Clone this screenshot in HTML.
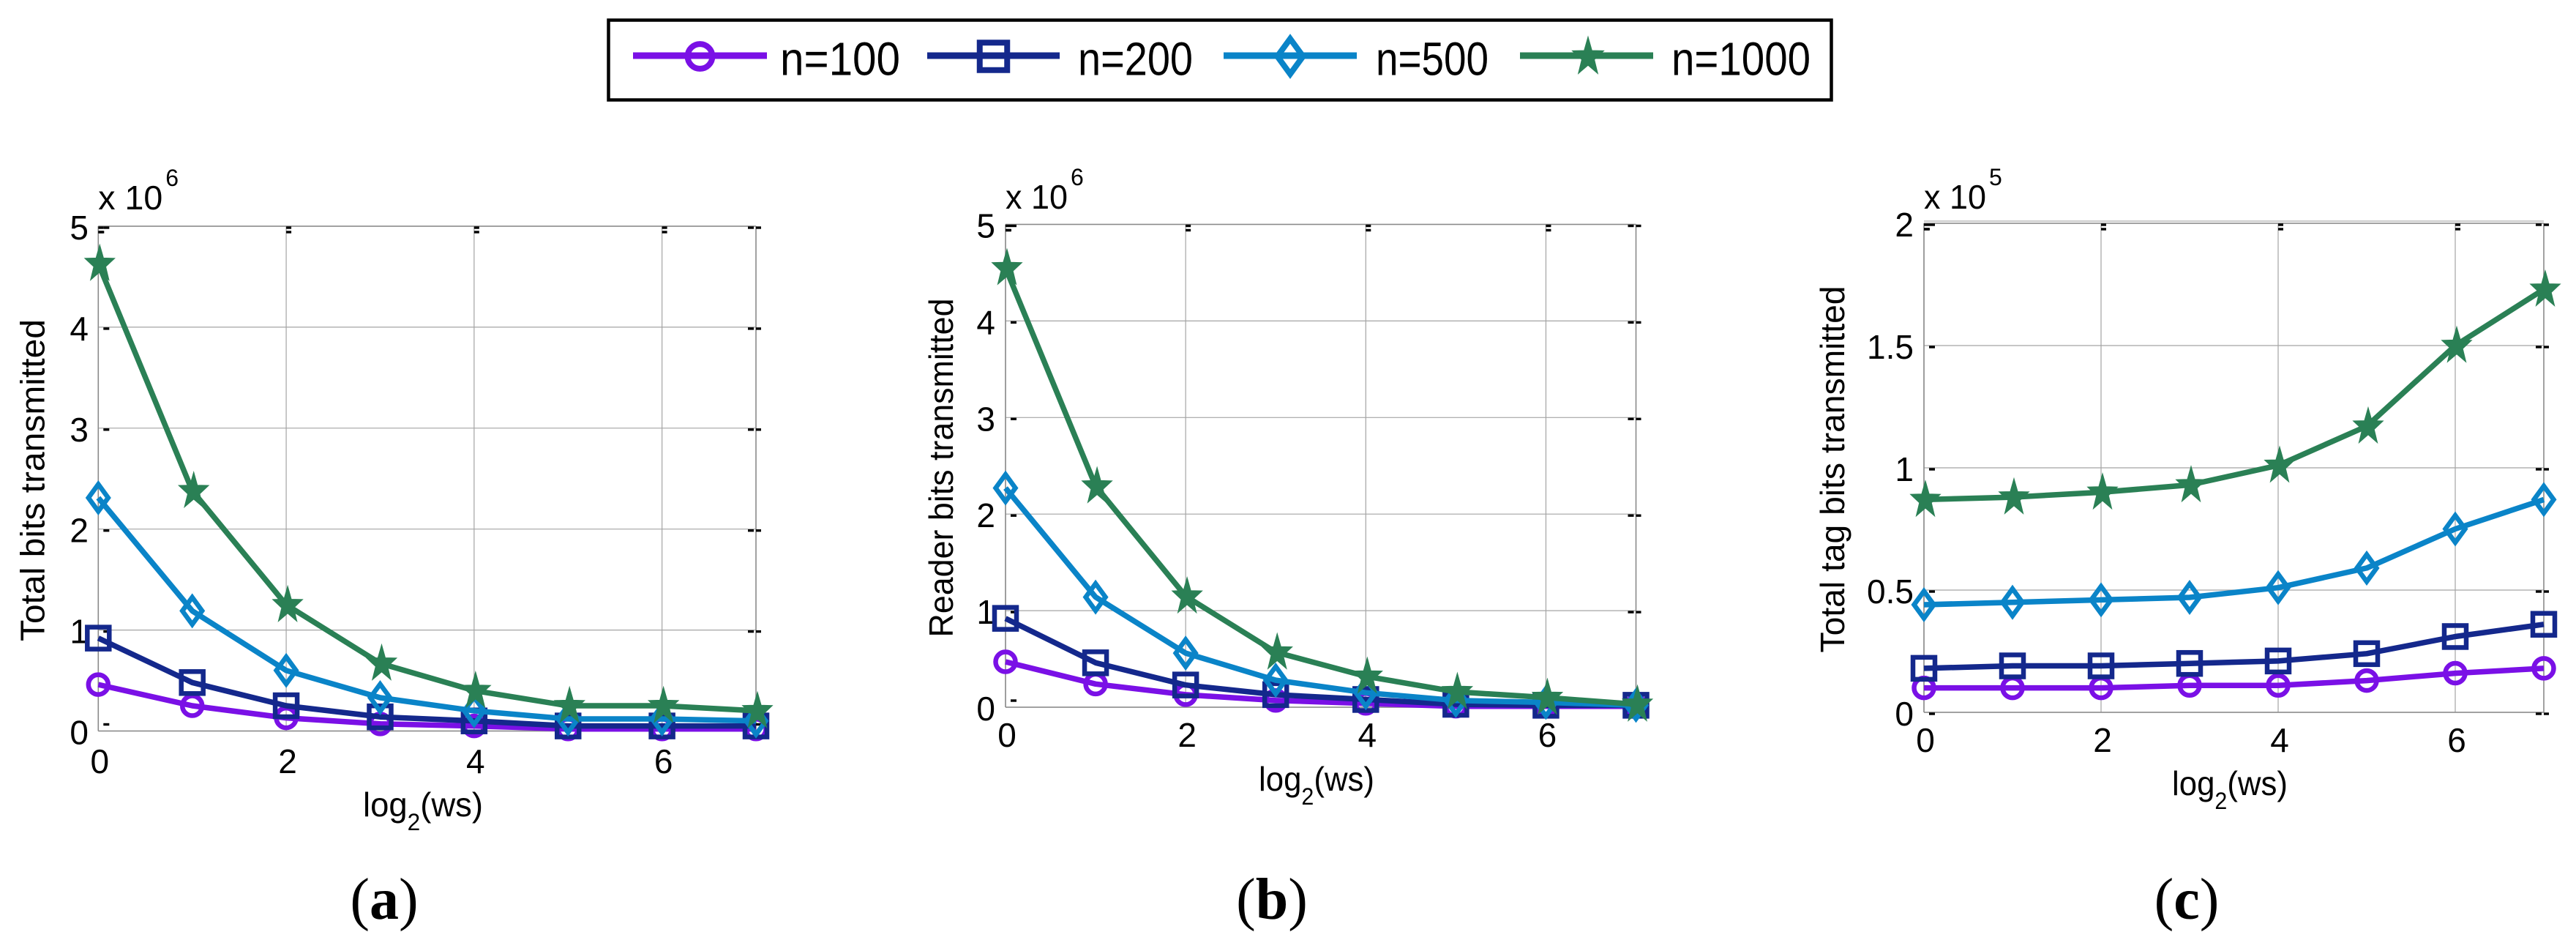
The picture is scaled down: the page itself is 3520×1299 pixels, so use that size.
<!DOCTYPE html>
<html lang="en">
<head>
<meta charset="utf-8">
<title>Bits transmitted versus window size</title>
<style>
html,body{margin:0;padding:0;background:#fff;}
#figure{display:block;width:3520px;height:1299px;background:#fff;}
text{font-family:"Liberation Sans",sans-serif;fill:#000;}
</style>
</head>
<body>
<svg id="figure" xmlns="http://www.w3.org/2000/svg" width="3520" height="1299" viewBox="0 0 3520 1299"></svg>
<script>
// ---- chart data ----
const seriesNames = ["n=100", "n=200", "n=500", "n=1000"];
const xCategories = [0, 1, 2, 3, 4, 5, 6, 7];
const xTickValues = [0, 2, 4, 6];
const xTickLabels = ["0", "2", "4", "6"];

const totalBitsN100 = [0.46, 0.25, 0.13, 0.07, 0.05, 0.02, 0.02, 0.02];
const totalBitsN200 = [0.92, 0.48, 0.25, 0.14, 0.10, 0.05, 0.05, 0.05];
const totalBitsN500 = [2.31, 1.19, 0.60, 0.33, 0.20, 0.12, 0.12, 0.10];
const totalBitsN1000 = [4.63, 2.38, 1.25, 0.67, 0.40, 0.25, 0.25, 0.20];

const readerBitsN100 = [0.47, 0.24, 0.13, 0.07, 0.04, 0.01, 0.01, 0.01];
const readerBitsN200 = [0.92, 0.46, 0.23, 0.13, 0.08, 0.03, 0.02, 0.02];
const readerBitsN500 = [2.27, 1.14, 0.56, 0.28, 0.15, 0.07, 0.05, 0.02];
const readerBitsN1000 = [4.55, 2.29, 1.15, 0.57, 0.32, 0.16, 0.10, 0.03];

const tagBitsN100 = [0.10, 0.10, 0.10, 0.11, 0.11, 0.13, 0.16, 0.18];
const tagBitsN200 = [0.18, 0.19, 0.19, 0.20, 0.21, 0.24, 0.31, 0.36];
const tagBitsN500 = [0.44, 0.45, 0.46, 0.47, 0.51, 0.59, 0.75, 0.87];
const tagBitsN1000 = [0.87, 0.88, 0.90, 0.93, 1.01, 1.17, 1.50, 1.73];

const millionTickValues = [0, 1, 2, 3, 4, 5];
const millionTickLabels = ["0", "1", "2", "3", "4", "5"];
const tagTickValues = [0, 0.5, 1, 1.5, 2];
const tagTickLabels = ["0", "0.5", "1", "1.5", "2"];

// ---- styling ----
const COLORS = {"n=100": "#7a10e6", "n=200": "#14288c", "n=500": "#0a84c8", "n=1000": "#2a8055"};
const SVG_NS = "http://www.w3.org/2000/svg";
const root = document.getElementById("figure");

function el(tag, attrs, parent) {
  const node = document.createElementNS(SVG_NS, tag);
  for (const k in attrs) node.setAttribute(k, attrs[k]);
  (parent || root).appendChild(node);
  return node;
}

function slug(s) {
  return s.replace("=", "-");
}

function starPoints(cx, cy, rx, ry) {
  const pts = [];
  for (let i = 0; i < 10; i++) {
    const f = i % 2 === 0 ? 1 : 0.4;
    const a = -Math.PI / 2 + i * Math.PI / 5;
    pts.push((cx + f * rx * Math.cos(a)).toFixed(1) + "," + (cy + f * ry * Math.sin(a)).toFixed(1));
  }
  return pts.join(" ");
}

function drawMarker(parent, name, cx, cy, scale, strokeW) {
  const color = COLORS[name];
  const k = scale || 1;
  const sw = strokeW || 6.5;
  let m;
  if (name === "n=100") {
    m = el("circle", {cx: cx, cy: cy, r: 13.5 * k, fill: "none", stroke: color, "stroke-width": sw}, parent);
  } else if (name === "n=200") {
    m = el("rect", {x: cx - 15 * k, y: cy - 15 * k, width: 30 * k, height: 30 * k, fill: "none", stroke: color, "stroke-width": sw}, parent);
  } else if (name === "n=500") {
    const w = 13.5 * k, h = 18.5 * k;
    m = el("polygon", {points: cx + "," + (cy - h) + " " + (cx + w) + "," + cy + " " + cx + "," + (cy + h) + " " + (cx - w) + "," + cy, fill: "none", stroke: color, "stroke-width": sw}, parent);
  } else {
    m = el("polygon", {points: starPoints(cx + 2, cy + 1, 21.5 * k, 26.5 * k), fill: color, stroke: color, "stroke-width": 1}, parent);
  }
  
  
}

function addText(parent, str, x, y, size, anchor, name) {
  const t = el("text", {x: x, y: y, "font-size": size, "text-anchor": anchor}, parent);
  t.textContent = str;
  
  
  return t;
}

function drawPanel(p) {
  const g = el("g", {}, root);
  
  

  const xScale = v => p.x0 + (v - p.xMin) / (p.xMax - p.xMin) * (p.x1 - p.x0);
  const yScale = v => p.y0 + (v - p.yMin) / (p.yMax - p.yMin) * (p.y1 - p.y0);

  // grid
  const grid = el("g", {stroke: "#a4a4a4", "stroke-width": 1.2, fill: "none"}, g);
  
  
  p.yTicks.forEach(v => el("line", {x1: p.x0, x2: p.x1, y1: yScale(v), y2: yScale(v)}, grid));
  xTickValues.forEach(v => el("line", {x1: xScale(v), x2: xScale(v), y1: p.y1, y2: p.y0}, grid));

  // axes frame
  const frame = el("g", {stroke: "#8a8a8a", "stroke-width": 1.6, fill: "none"}, g);
  
  
  el("line", {x1: p.x0, x2: p.x0, y1: p.y1, y2: p.y0}, frame);
  el("line", {x1: p.x0, x2: p.x1, y1: p.y0, y2: p.y0}, frame);
  el("line", {x1: p.x0, x2: p.x1, y1: p.y1, y2: p.y1}, frame);
  el("line", {x1: p.x1, x2: p.x1, y1: p.y1, y2: p.y0}, frame);
  if (p.doubleTop) el("line", {x1: p.x0, x2: p.x1, y1: p.y1 - 3, y2: p.y1 - 3, stroke: "#bbbbbb"}, frame);

  // tick dashes
  const dashes = el("g", {stroke: "#000", "stroke-width": 3.4, fill: "none"}, g);
  
  
  p.yTicks.forEach(v => {
    const y = yScale(v) + (v === p.yMin ? p.zeroDash : 2);
    el("line", {x1: p.x0 + 7, x2: p.x0 + 15, y1: y, y2: y}, dashes);
    el("line", {x1: p.x1 - 11, x2: p.x1 - 3, y1: y, y2: y}, dashes);
    el("line", {x1: p.x1, x2: p.x1 + 7, y1: y, y2: y}, dashes);
  });
  xTickValues.forEach(v => {
    const x = xScale(v);
    el("line", {x1: x, x2: x + 7, y1: p.y1 + 2, y2: p.y1 + 2}, dashes);
    el("line", {x1: x, x2: x + 7, y1: p.y1 + 8, y2: p.y1 + 8}, dashes);
  });
  el("line", {x1: p.x0, x2: p.x0 + 8, y1: p.y1 + 8, y2: p.y1 + 8}, dashes);

  // tick labels
  xTickValues.forEach((v, i) => {
    addText(g, xTickLabels[i], xScale(v) + 2, p.xLabelBase, 46, "middle", "x-tick-label-" + xTickLabels[i]);
  });
  p.yTicks.forEach((v, i) => {
    addText(g, p.yLabels[i], p.yLabelRight, yScale(v) + 18, 46, "end", "y-tick-label-" + p.yLabels[i]);
  });

  // multiplier
  const mult = addText(g, "x 10", p.x0, p.multBase, 46, "start", "axis-multiplier");
  mult.setAttribute("textLength", p.multW);
  mult.setAttribute("lengthAdjust", "spacingAndGlyphs");
  addText(g, p.exponent, p.x0 + p.multW + 4, p.multBase - 32, 32, "start", "axis-multiplier-exponent");

  // axis titles
  const xt = addText(g, "log", p.xTitleX, p.xTitleBase, 46, "start", "x-axis-title");
  const sub = el("tspan", {"font-size": 32, dy: 19}, xt);
  sub.textContent = "2";
  const rest = el("tspan", {dy: -19}, xt);
  rest.textContent = "(ws)";
  xt.setAttribute("textLength", p.xTitleW);
  xt.setAttribute("lengthAdjust", "spacingAndGlyphs");

  const yt = addText(g, p.yTitle, 0, 0, 46, "middle", "y-axis-title");
  yt.setAttribute("transform", "translate(" + p.yTitleBase + " " + p.yTitleY + ") rotate(-90)");
  yt.setAttribute("textLength", p.yTitleLen);
  yt.setAttribute("lengthAdjust", "spacingAndGlyphs");

  // series lines then markers, in legend order
  seriesNames.forEach((name, si) => {
    const values = p.series[si];
    const sg = el("g", {}, g);
    
    
    const pts = values.map((v, i) => xScale(xCategories[i]).toFixed(1) + "," + yScale(v).toFixed(1)).join(" ");
    const line = el("polyline", {points: pts, fill: "none", stroke: COLORS[name], "stroke-width": 7.5, "stroke-linejoin": "round"}, sg);
    
    
    values.forEach((v, i) => drawMarker(sg, name, xScale(xCategories[i]), yScale(v), 1));
  });

  // panel letter
  const cap = el("text", {x: p.capX, y: 1255, "font-size": 80, "text-anchor": "middle", style: "font-family:'Liberation Serif',serif"}, g);
  
  
  const c1 = el("tspan", {}, cap); c1.textContent = "(";
  const c2 = el("tspan", {"font-weight": "bold"}, cap); c2.textContent = p.letter;
  const c3 = el("tspan", {}, cap); c3.textContent = ")";
}

// ---- legend ----
function drawLegend() {
  const g = el("g", {}, root);
  
  
  const box = el("rect", {x: 831.5, y: 27.5, width: 1671, height: 109, fill: "#fff", stroke: "#000", "stroke-width": 4.5}, g);
  
  
  const layout = [
    {x: 865, w: 183, tx: 1066, tw: 164},
    {x: 1267, w: 181, tx: 1473, tw: 157},
    {x: 1672, w: 182, tx: 1880, tw: 154},
    {x: 2077, w: 182, tx: 2284, tw: 190}
  ];
  seriesNames.forEach((name, i) => {
    const L = layout[i];
    const eg = el("g", {}, g);
    
    
    el("line", {x1: L.x, x2: L.x + L.w, y1: 76, y2: 76, stroke: COLORS[name], "stroke-width": 9}, eg);
    const cx = L.x + L.w / 2;
    drawMarker(eg, name, cx, 77, name === "n=100" ? 1.25 : (name === "n=500" ? 1.3 : (name === "n=200" ? 1.25 : 1.05)), 8);
    const t = addText(eg, name, L.tx, 102.5, 64, "start", "legend-label-" + slug(name));
    t.setAttribute("textLength", L.tw);
    t.setAttribute("lengthAdjust", "spacingAndGlyphs");
  });
}

drawLegend();

drawPanel({
  id: "panel-a-total-bits", letter: "a", capX: 525,
  x0: 134.3, x1: 1033, y0: 998.5, y1: 309,
  xMin: 0, xMax: 7, yMin: 0, yMax: 5,
  yTicks: millionTickValues, yLabels: millionTickLabels,
  series: [totalBitsN100, totalBitsN200, totalBitsN500, totalBitsN1000],
  zeroDash: -9, doubleTop: false,
  xLabelBase: 1056, yLabelRight: 121,
  multBase: 286, multW: 88, exponent: "6",
  xTitleX: 496, xTitleBase: 1115, xTitleW: 164,
  yTitle: "Total bits transmitted", yTitleBase: 60.6, yTitleY: 656, yTitleLen: 440
});

drawPanel({
  id: "panel-b-reader-bits", letter: "b", capX: 1738,
  x0: 1374, x1: 2235.5, y0: 966, y1: 306.5,
  xMin: 0, xMax: 7, yMin: 0, yMax: 5,
  yTicks: millionTickValues, yLabels: millionTickLabels,
  series: [readerBitsN100, readerBitsN200, readerBitsN500, readerBitsN1000],
  zeroDash: -9, doubleTop: false,
  xLabelBase: 1020, yLabelRight: 1360,
  multBase: 285, multW: 85, exponent: "6",
  xTitleX: 1720, xTitleBase: 1080, xTitleW: 158,
  yTitle: "Reader bits transmitted", yTitleBase: 1302, yTitleY: 639, yTitleLen: 463
});

drawPanel({
  id: "panel-c-tag-bits", letter: "c", capX: 2988,
  x0: 2629, x1: 3476, y0: 973, y1: 305,
  xMin: 0, xMax: 7, yMin: 0, yMax: 2,
  yTicks: tagTickValues, yLabels: tagTickLabels,
  series: [tagBitsN100, tagBitsN200, tagBitsN500, tagBitsN1000],
  zeroDash: 2, doubleTop: true,
  xLabelBase: 1027, yLabelRight: 2615,
  multBase: 285, multW: 85, exponent: "5",
  xTitleX: 2968, xTitleBase: 1086, xTitleW: 158,
  yTitle: "Total tag bits transmitted", yTitleBase: 2520, yTitleY: 641, yTitleLen: 501
});
</script>
</body>
</html>
